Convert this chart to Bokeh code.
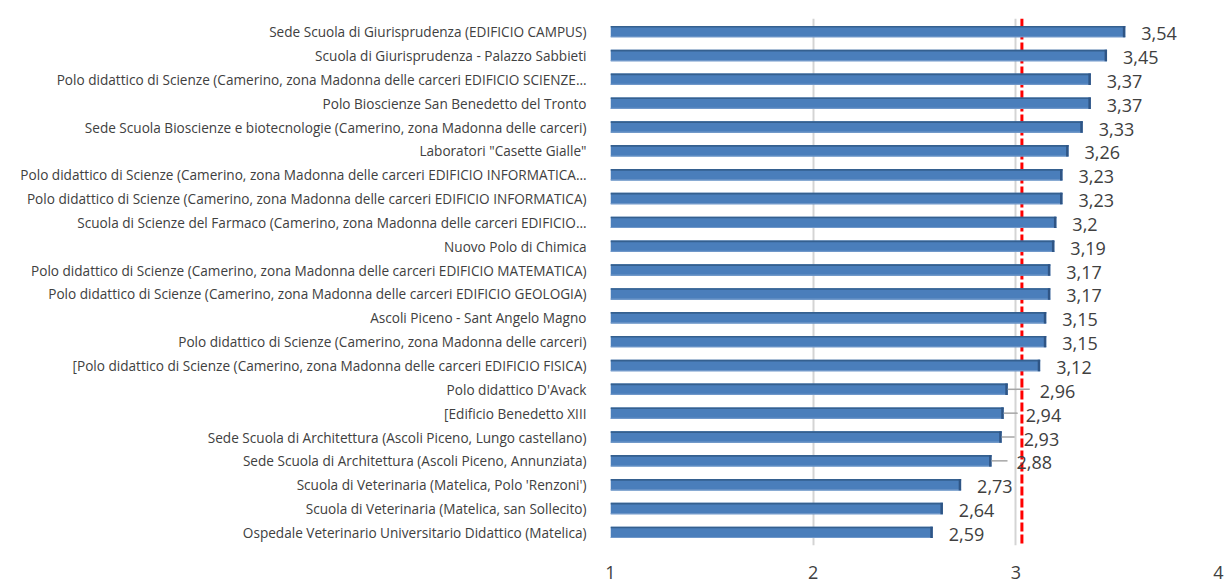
from bokeh.plotting import figure
from bokeh.models import FactorRange, Range1d, Span, FixedTicker, ColumnDataSource
from bokeh.core.properties import value
from bokeh.embed import file_html
from bokeh.resources import INLINE

# ---------------- data ----------------
categories = [
    "Sede Scuola di Giurisprudenza (EDIFICIO CAMPUS)",
    "Scuola di Giurisprudenza - Palazzo Sabbieti",
    "Polo didattico di Scienze (Camerino, zona Madonna delle carceri EDIFICIO SCIENZE…",
    "Polo Bioscienze San Benedetto del Tronto",
    "Sede Scuola Bioscienze e biotecnologie (Camerino, zona Madonna delle carceri)",
    "Laboratori \"Casette Gialle\"",
    "Polo didattico di Scienze (Camerino, zona Madonna delle carceri EDIFICIO INFORMATICA…",
    "Polo didattico di Scienze (Camerino, zona Madonna delle carceri EDIFICIO INFORMATICA)",
    "Scuola di Scienze del Farmaco (Camerino, zona Madonna delle carceri EDIFICIO…",
    "Nuovo Polo di Chimica",
    "Polo didattico di Scienze (Camerino, zona Madonna delle carceri EDIFICIO MATEMATICA)",
    "Polo didattico di Scienze (Camerino, zona Madonna delle carceri EDIFICIO GEOLOGIA)",
    "Ascoli Piceno - Sant Angelo Magno",
    "Polo didattico di Scienze (Camerino, zona Madonna delle carceri)",
    "[Polo didattico di Scienze (Camerino, zona Madonna delle carceri EDIFICIO FISICA)",
    "Polo didattico D'Avack",
    "[Edificio Benedetto XIII",
    "Sede Scuola di Architettura (Ascoli Piceno, Lungo castellano)",
    "Sede Scuola di Architettura (Ascoli Piceno, Annunziata)",
    "Scuola di Veterinaria (Matelica, Polo 'Renzoni')",
    "Scuola di Veterinaria (Matelica, san Sollecito)",
    "Ospedale Veterinario Universitario Didattico (Matelica)",
]
values = [3.54, 3.45, 3.37, 3.37, 3.33, 3.26, 3.23, 3.23, 3.2, 3.19, 3.17, 3.17,
          3.15, 3.15, 3.12, 2.96, 2.94, 2.93, 2.88, 2.73, 2.64, 2.59]
x_ticks = [1, 2, 3, 4]
reference_value = 3.03

# ---------------- styling / layout ----------------
W, H = 1224, 588
LEFT, RIGHT, TOP, BOTTOM = 610, 6, 18, 43
px_per_unit = (W - LEFT - RIGHT) / (x_ticks[-1] - x_ticks[0])
# label offsets (px) – larger for those pushed past the reference line
label_offset = [16] * len(values)
leader_px = [0] * len(values)
for i, off, lead in [(15, 32, 22), (16, 22, 14), (17, 22, 13), (18, 25, 16)]:
    label_offset[i] = off
    leader_px[i] = lead

labels = [f"{v:g}".replace(".", ",") for v in values]
factors = list(reversed(categories))

p = figure(width=W, height=H, output_backend="svg", toolbar_location=None,
           y_range=FactorRange(factors=factors, range_padding=0.05, range_padding_units="absolute"),
           x_range=Range1d(x_ticks[0], x_ticks[-1]),
           min_border_left=LEFT, min_border_right=RIGHT,
           min_border_top=TOP, min_border_bottom=BOTTOM)
p.outline_line_color = None
p.background_fill_color = "white"
p.border_fill_color = "white"

# grid
p.ygrid.grid_line_color = None
p.xgrid.grid_line_color = "#d4d4d4"
p.xgrid.grid_line_width = 2
p.xaxis.ticker = FixedTicker(ticks=x_ticks)

src = ColumnDataSource(dict(
    y=categories, v=values, lab=labels, off=label_offset,
    top=[(c, 0.205) for c in categories],
    bot=[(c, -0.215) for c in categories],
    side_l=[v - 0.012 for v in values],
    base=[x_ticks[0]] * len(values),
    lead_end=[v + lp / px_per_unit for v, lp in zip(values, leader_px)],
    lead_alpha=[1 if lp > 0 else 0 for lp in leader_px],
))

# reference line
p.add_layout(Span(location=reference_value, dimension="height", line_color="#ff0000",
                  line_width=3, line_dash="9 3", level="underlay"))

# bars with a pseudo-3D look
p.hbar(y="y", left="base", right="v", height=0.48, source=src,
       fill_color="#4a7ebb", line_color=None)
p.hbar(y="top", left="base", right="v", height=0.07, source=src,
       fill_color="#35608f", line_color=None)
p.hbar(y="bot", left="base", right="v", height=0.05, source=src,
       fill_color="#6f97c9", line_color=None)
p.hbar(y="y", left="side_l", right="v", height=0.48, source=src,
       fill_color="#2f5585", line_color=None)

# leader lines
p.segment(x0="v", y0="y", x1="lead_end", y1="y", source=src,
          line_color="#a6a6a6", line_width=1.5, line_alpha="lead_alpha")

# value labels
p.text(x="v", y="y", text="lab", x_offset="off", y_offset=2, source=src,
       text_font=value("Open Sans"), text_font_size="18px", text_color="#404040",
       text_baseline="middle", text_align="left")

# axes
p.yaxis.axis_line_color = None
p.yaxis.major_tick_line_color = None
p.yaxis.minor_tick_line_color = None
p.yaxis.major_label_standoff = 18
p.yaxis.major_label_text_font = "Open Sans"
p.yaxis.major_label_text_font_size = "13.6px"
p.yaxis.major_label_text_color = "#404040"

p.xaxis.axis_line_color = None
p.xaxis.major_tick_line_color = None
p.xaxis.minor_tick_line_color = None
p.xaxis.major_label_standoff = 14
p.xaxis.major_label_text_font = "Open Sans"
p.xaxis.major_label_text_font_size = "18px"
p.xaxis.major_label_text_color = "#404040"

open("out.html", "w").write(file_html(p, INLINE))
